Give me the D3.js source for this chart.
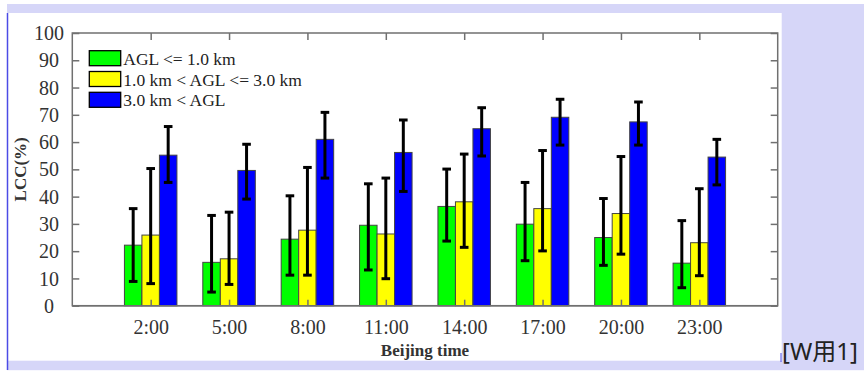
<!DOCTYPE html>
<html>
<head>
<meta charset="utf-8">
<script src="https://cdn.jsdelivr.net/npm/d3@7"></script>
<style>
  html, body { margin: 0; padding: 0; background: #ffffff; }
  svg { display: block; }
</style>
</head>
<body>
<div id="chart"></div>
<script>
// data
var times = ["2:00", "5:00", "8:00", "11:00", "14:00", "17:00", "20:00", "23:00"];
var seriesNames = ["AGL <= 1.0 km", "1.0 km < AGL <= 3.0 km", "3.0 km < AGL"];
var seriesColors = ["#00ff00", "#ffff00", "#0000ff"];

var lowValues  = [22.2, 15.9, 24.4, 29.5, 36.4, 29.9, 25.0, 15.6];
var midValues  = [25.9, 17.2, 27.7, 26.3, 38.1, 35.6, 33.8, 23.1];
var highValues = [55.2, 49.6, 61.0, 56.2, 64.9, 69.1, 67.4, 54.5];

// error bar ends (upper / lower)
var lowErrTop  = [35.6, 33.1, 40.3, 44.7, 50.1, 45.2, 39.3, 31.2];
var lowErrBot  = [8.9, 5.0, 11.2, 13.1, 23.7, 16.5, 14.8, 6.6];
var midErrTop  = [50.3, 34.3, 50.7, 46.8, 55.6, 56.9, 54.7, 42.9];
var midErrBot  = [8.1, 7.8, 11.2, 9.9, 21.4, 20.1, 18.9, 11.0];
var highErrTop = [65.7, 59.2, 70.9, 68.1, 72.6, 75.7, 74.7, 61.0];
var highErrBot = [45.2, 39.1, 46.8, 41.9, 54.9, 58.9, 58.9, 44.3];

var yTicks = [0, 10, 20, 30, 40, 50, 60, 70, 80, 90, 100];

var svgWidth = 864;
var svgHeight = 371;

var plot = { left: 72.3, right: 777.7, top: 33, bottom: 305.7 };

var svg = d3.select("#chart")
  .append("svg")
  .attr("width", svgWidth)
  .attr("height", svgHeight);

// page background (lavender strips round the white figure)
var pageBg = "#d6d6f8";
svg.append("rect").attr("x", 7).attr("y", 4).attr("width", svgWidth - 7).attr("height", 9).attr("fill", pageBg);
svg.append("rect").attr("x", 781.7).attr("y", 4).attr("width", svgWidth - 781.7).attr("height", 366).attr("fill", pageBg);
svg.append("rect").attr("x", 7).attr("y", 360.7).attr("width", svgWidth - 7).attr("height", 9.5).attr("fill", pageBg);
svg.append("line").attr("x1", 7.5).attr("x2", 7.5).attr("y1", 13).attr("y2", 370)
  .attr("stroke", "#4b4be6").attr("stroke-width", 1.5);
svg.append("line").attr("x1", 781).attr("x2", 781).attr("y1", 353).attr("y2", 362)
  .attr("stroke", "#4b4be6").attr("stroke-width", 1);

svg.append("text")
  .attr("x", 782)
  .attr("y", 360)
  .attr("font-family", "'Noto Sans', 'Noto Sans CJK SC', sans-serif")
  .attr("font-size", "24px")
  .attr("fill", "#222")
  .text("[W用1]");

// scales
var xScale = d3.scalePoint()
  .domain(times)
  .range([plot.left, plot.right])
  .padding(1);

var groupWidth = 52.5;
var xSub = d3.scaleBand()
  .domain(d3.range(seriesNames.length))
  .range([-groupWidth / 2, groupWidth / 2]);

var yScale = d3.scaleLinear()
  .domain([0, 100])
  .range([plot.bottom, plot.top]);

var axisColor = "#707070";
var labelColor = "#333";
var serif = "'Liberation Serif', 'Times New Roman', serif";

// frame
svg.append("rect")
  .attr("x", plot.left)
  .attr("y", plot.top)
  .attr("width", plot.right - plot.left)
  .attr("height", plot.bottom - plot.top)
  .attr("fill", "none")
  .attr("stroke", axisColor)
  .attr("stroke-width", 1.5);

// left axis (ticks inward, labels centred)
var leftAxis = d3.axisLeft(yScale).tickValues(yTicks).tickSize(-7).tickPadding(0);
var yAxis = svg.append("g")
  .attr("transform", `translate(${plot.left}, 0)`)
  .call(leftAxis);
yAxis.select(".domain").remove();
yAxis.selectAll("line").attr("stroke", axisColor).attr("stroke-width", 1.5);
yAxis.selectAll("text")
  .attr("x", 49 - plot.left)
  .attr("dy", "0.33em")
  .attr("text-anchor", "middle")
  .attr("font-family", serif)
  .attr("font-size", "20px")
  .attr("fill", labelColor);

// right axis, ticks only
var rightAxis = d3.axisRight(yScale).tickValues(yTicks).tickSize(-7).tickFormat("");
var yAxisR = svg.append("g")
  .attr("transform", `translate(${plot.right}, 0)`)
  .call(rightAxis);
yAxisR.select(".domain").remove();
yAxisR.selectAll("line").attr("stroke", axisColor).attr("stroke-width", 1.5);

// top axis, ticks only
var topAxis = d3.axisTop(xScale).tickSize(-7).tickFormat("");
var xAxisTop = svg.append("g")
  .attr("transform", `translate(0, ${plot.top})`)
  .call(topAxis);
xAxisTop.select(".domain").remove();
xAxisTop.selectAll("line").attr("stroke", axisColor).attr("stroke-width", 1.5);

// bars
var seriesValues = [lowValues, midValues, highValues];
var seriesErrTop = [lowErrTop, midErrTop, highErrTop];
var seriesErrBot = [lowErrBot, midErrBot, highErrBot];

var barData = [];
times.forEach(function(t, i) {
  seriesNames.forEach(function(name, s) {
    barData.push({
      time: t,
      s: s,
      value: seriesValues[s][i],
      top: seriesErrTop[s][i],
      bot: seriesErrBot[s][i]
    });
  });
});

var barsGroup = svg.append("g");
barsGroup.selectAll("rect")
  .data(barData)
  .enter()
  .append("rect")
  .attr("x", d => xScale(d.time) + xSub(d.s))
  .attr("y", d => yScale(d.value))
  .attr("width", xSub.bandwidth())
  .attr("height", d => plot.bottom - yScale(d.value))
  .attr("fill", d => seriesColors[d.s])
  .attr("stroke", "#444")
  .attr("stroke-width", 1);

// error bars
var capHalf = 4.3;
var errGroup = svg.append("g")
  .attr("stroke", "#000")
  .attr("stroke-width", 3);

errGroup.selectAll(".stem")
  .data(barData)
  .enter()
  .append("line")
  .attr("class", "stem")
  .attr("x1", d => xScale(d.time) + xSub(d.s) + xSub.bandwidth() / 2)
  .attr("x2", d => xScale(d.time) + xSub(d.s) + xSub.bandwidth() / 2)
  .attr("y1", d => yScale(d.top))
  .attr("y2", d => yScale(d.bot));

errGroup.selectAll(".capTop")
  .data(barData)
  .enter()
  .append("line")
  .attr("class", "capTop")
  .attr("x1", d => xScale(d.time) + xSub(d.s) + xSub.bandwidth() / 2 - capHalf)
  .attr("x2", d => xScale(d.time) + xSub(d.s) + xSub.bandwidth() / 2 + capHalf)
  .attr("y1", d => yScale(d.top))
  .attr("y2", d => yScale(d.top));

errGroup.selectAll(".capBot")
  .data(barData)
  .enter()
  .append("line")
  .attr("class", "capBot")
  .attr("x1", d => xScale(d.time) + xSub(d.s) + xSub.bandwidth() / 2 - capHalf)
  .attr("x2", d => xScale(d.time) + xSub(d.s) + xSub.bandwidth() / 2 + capHalf)
  .attr("y1", d => yScale(d.bot))
  .attr("y2", d => yScale(d.bot));

// bottom axis drawn over bars (inward ticks show through)
var bottomAxis = d3.axisBottom(xScale).tickSize(-6).tickPadding(0);
var xAxis = svg.append("g")
  .attr("transform", `translate(0, ${plot.bottom})`)
  .call(bottomAxis);
xAxis.select(".domain").remove();
xAxis.selectAll("line").attr("stroke", axisColor).attr("stroke-width", 1.5);
xAxis.selectAll("text")
  .attr("y", 334.5 - plot.bottom)
  .attr("dy", 0)
  .attr("font-family", serif)
  .attr("font-size", "20px")
  .attr("fill", labelColor);

// bottom frame line again on top of bars
svg.append("line")
  .attr("x1", plot.left).attr("x2", plot.right)
  .attr("y1", plot.bottom).attr("y2", plot.bottom)
  .attr("stroke", axisColor).attr("stroke-width", 1.5);

// axis titles
svg.append("text")
  .attr("x", (plot.left + plot.right) / 2)
  .attr("y", 356)
  .attr("text-anchor", "middle")
  .attr("font-family", serif)
  .attr("font-weight", "bold")
  .attr("font-size", "17px")
  .attr("fill", labelColor)
  .text("Beijing time");

svg.append("text")
  .attr("transform", `translate(26, ${(plot.top + plot.bottom) / 2}) rotate(-90)`)
  .attr("text-anchor", "middle")
  .attr("font-family", serif)
  .attr("font-weight", "bold")
  .attr("font-size", "17px")
  .attr("fill", labelColor)
  .text("LCC(%)");

// legend
var legend = svg.append("g");
var legendRows = legend.selectAll("g")
  .data(seriesNames)
  .enter()
  .append("g")
  .attr("transform", (d, i) => `translate(89.3, ${50.7 + i * 20.8})`);

legendRows.append("rect")
  .attr("width", 31.4)
  .attr("height", 15)
  .attr("fill", (d, i) => seriesColors[i])
  .attr("stroke", "#000")
  .attr("stroke-width", 1.3);

legendRows.append("text")
  .attr("x", 34)
  .attr("y", 14)
  .attr("font-family", serif)
  .attr("font-size", "17.5px")
  .attr("fill", "#222")
  .text(d => d);
</script>
</body>
</html>
